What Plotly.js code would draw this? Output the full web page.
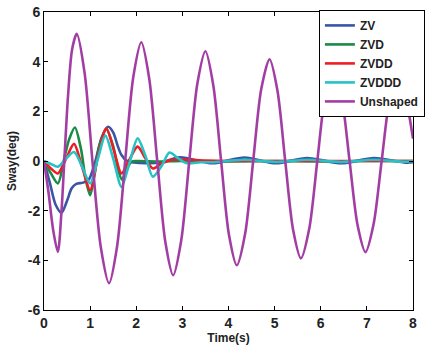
<!DOCTYPE html>
<html>
<head>
<meta charset="utf-8">
<script src="https://cdn.plot.ly/plotly-3.0.1.min.js"></script>
<style>html,body{margin:0;padding:0;background:#fff;}#chart{width:425px;height:345px;}</style>
</head>
<body>
<div id="chart"></div>
<script>
// ---- data ----
const zvT = [0, 0.13, 0.25, 0.38, 0.5, 0.6, 0.7, 0.85, 0.97, 1.1, 1.25, 1.39, 1.5, 1.6, 1.68, 1.8, 1.95, 2.5, 2.95, 3.65, 4.35, 5.03, 5.7, 6.45, 7.15, 7.87, 8.0];
const zvV = [0, -0.9, -1.75, -2.08, -1.6, -1.1, -0.92, -0.87, -0.75, -0.1, 0.95, 1.38, 1.15, 0.6, 0.24, 0.0, -0.06, -0.07, 0.15, -0.09, 0.14, -0.09, 0.12, -0.09, 0.12, -0.07, -0.05];

const zvdT = [0, 0.15, 0.3, 0.45, 0.55, 0.67, 0.8, 0.9, 1.0, 1.1, 1.2, 1.35, 1.5, 1.6, 1.69, 1.8, 1.9, 2.0, 2.5, 3.0, 4.0, 5.0, 6.0, 7.0, 8.0];
const zvdV = [0, -0.5, -0.9, 0.2, 0.9, 1.35, 0.5, -0.7, -1.38, -0.5, 0.6, 1.28, 0.6, -0.3, -0.75, -0.3, -0.03, 0.0, -0.02, 0.0, -0.02, 0.0, -0.02, 0.0, 0.0];

const zvddT = [0, 0.15, 0.3, 0.48, 0.65, 0.82, 1.0, 1.17, 1.35, 1.52, 1.68, 1.85, 2.03, 2.2, 2.36, 2.55, 2.75, 3.0, 3.5, 4.0, 5.0, 6.0, 7.0, 8.0];
const zvddV = [0, -0.3, -0.5, 0.1, 0.69, -0.2, -1.17, 0.2, 1.32, 0.4, -0.5, 0.05, 0.58, 0.1, -0.3, -0.1, 0.04, 0.06, 0.02, 0.0, 0.0, 0.0, 0.0, 0.0];

const zvdddT = [0, 0.15, 0.3, 0.48, 0.65, 0.82, 1.0, 1.17, 1.33, 1.5, 1.68, 1.85, 2.03, 2.2, 2.36, 2.55, 2.72, 2.9, 3.08, 3.4, 3.65, 4.35, 5.05, 5.7, 6.45, 7.15, 7.85, 8.0];
const zvdddV = [0, -0.12, -0.23, 0.1, 0.36, -0.2, -0.9, 0.1, 1.02, 0.1, -1.04, -0.1, 0.91, 0.2, -0.63, -0.2, 0.34, 0.12, -0.08, -0.05, -0.05, 0.05, -0.04, 0.05, -0.04, 0.05, -0.03, 0.0];

const unT = [0, 0.1, 0.2, 0.3, 0.38, 0.44, 0.52, 0.61, 0.71, 0.88, 1.05, 1.23, 1.41, 1.585, 1.76, 1.935, 2.11, 2.28, 2.455, 2.63, 2.8, 2.975, 3.15, 3.325, 3.5, 3.67, 3.84, 4.01, 4.18, 4.36, 4.535, 4.71, 4.89, 5.06, 5.23, 5.4, 5.57, 5.75, 5.925, 6.1, 6.28, 6.45, 6.625, 6.8, 6.97, 7.145, 7.32, 7.495, 7.68, 7.85, 8.0];
const unV = [0, -1.3, -2.8, -3.66, -2.0, 0, 2.6, 4.5, 5.12, 3.55, 0, -3.45, -4.92, -3.43, 0, 3.37, 4.78, 3.33, 0, -3.25, -4.6, -3.2, 0, 3.12, 4.42, 3.05, 0, -2.97, -4.2, -2.93, 0, 2.9, 4.1, 2.85, 0, -2.77, -3.92, -2.73, 0, 2.69, 3.8, 2.65, 0, -2.6, -3.67, -2.55, 0, 2.5, 3.55, 2.5, 0.9];

const seriesNames = ["ZV", "ZVD", "ZVDD", "ZVDDD", "Unshaped"];
const xTickVals = [0, 1, 2, 3, 4, 5, 6, 7, 8];
const yTickVals = [-6, -4, -2, 0, 2, 4, 6];

// ---- styles ----
const colors = ["#3a55a5", "#1b8a45", "#ee1d25", "#27c2c6", "#a23ea3"];
const xs = [zvT, zvdT, zvddT, zvdddT, unT];
const ys = [zvV, zvdV, zvddV, zvdddV, unV];

const traces = seriesNames.map((n, i) => ({
  x: xs[i], y: ys[i], name: n, type: "scatter", mode: "lines",
  line: {color: colors[i], width: 2.6, shape: "spline", smoothing: 0.8}
}));

const ff = "Liberation Sans, Arial, sans-serif";

const layout = {
  width: 425, height: 345,
  margin: {l: 44, r: 12, t: 12, b: 35, autoexpand: false},
  paper_bgcolor: "#fff", plot_bgcolor: "#fff",
  font: {family: ff, size: 13, color: "#222"},
  showlegend: true,
  legend: {
    x: 0.745, y: 1.007, xanchor: "left", yanchor: "top",
    bgcolor: "#fff", bordercolor: "#000", borderwidth: 1,
    font: {family: ff, size: 12, color: "#222", weight: "bold"},
    tracegroupgap: 0, itemwidth: 30
  },
  xaxis: {
    range: [0, 8], tickvals: xTickVals, ticktext: xTickVals.map(String),
    ticks: "inside", ticklen: 4, tickcolor: "#000",
    showline: true, linecolor: "#000", linewidth: 1, mirror: "ticks",
    showgrid: false, zeroline: false,
    tickfont: {family: ff, size: 14, color: "#222", weight: "bold"},
    title: {text: "Time(s)", standoff: 0, font: {family: ff, size: 12, color: "#222", weight: "bold"}}
  },
  yaxis: {
    range: [-6, 6], tickvals: yTickVals, ticktext: yTickVals.map(String),
    ticks: "inside", ticklen: 4, tickcolor: "#000",
    showline: true, linecolor: "#000", linewidth: 1, mirror: "ticks",
    showgrid: false, zeroline: false,
    tickfont: {family: ff, size: 14, color: "#222", weight: "bold"},
    title: {text: "Sway(deg)", standoff: 8, font: {family: ff, size: 12, color: "#222", weight: "bold"}}
  }
};

Plotly.newPlot("chart", traces, layout, {displayModeBar: false, staticPlot: true});
</script>
</body>
</html>
